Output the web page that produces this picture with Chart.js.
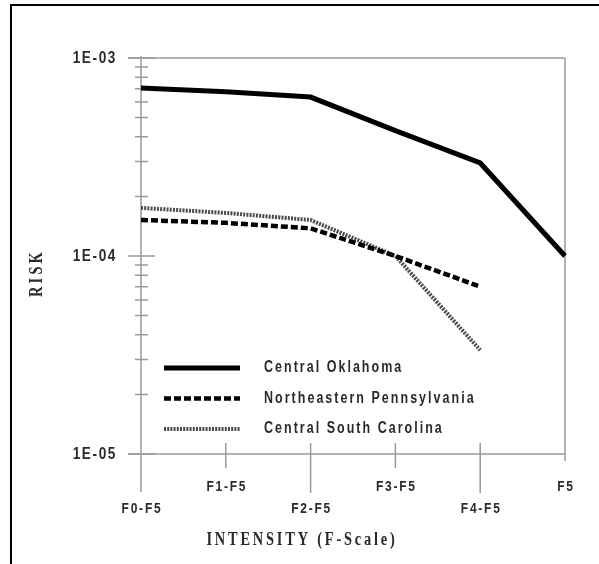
<!DOCTYPE html>
<html>
<head>
<meta charset="utf-8">
<title>Tornado risk by intensity</title>
<script src="https://cdn.jsdelivr.net/npm/chart.js@4.4.1/dist/chart.umd.min.js"></script>
<style>
  html, body { margin: 0; padding: 0; background: #fff; }
  #wrap { position: relative; width: 599px; height: 564px; overflow: hidden; }
  #frame {
    position: absolute; left: 10px; top: 4px; width: 700px; height: 700px;
    border-top: 2px solid #000; border-left: 2px solid #000;
  }
  canvas { position: absolute; left: 0; top: 0; }
</style>
</head>
<body>
<div id="wrap">
  <div id="frame"></div>
  <canvas id="riskChart" width="599" height="564"></canvas>
</div>
<script>
// intensity classes along the bottom
const categories = ['F0-F5', 'F1-F5', 'F2-F5', 'F3-F5', 'F4-F5', 'F5'];

// annual risk per region
const oklahoma = [7.05e-4, 6.75e-4, 6.35e-4, 4.3e-4, 2.95e-4, 1.0e-4];
const pennsylvania = [1.52e-4, 1.47e-4, 1.38e-4, 1.0e-4, 7.0e-5, null];
const southCarolina = [1.75e-4, 1.65e-4, 1.52e-4, 1.0e-4, 3.35e-5, null];

const seriesNames = ['Central Oklahoma', 'Northeastern Pennsylvania', 'Central South Carolina'];

// y axis decades
const yMajorTicks = [1e-5, 1e-4, 1e-3];
const yTickLabels = ['1E-05', '1E-04', '1E-03'];

const AXIS_GREY = '#9a9a9a';
const TEXT = '#2a2a2a';
const SANS = "'Liberation Sans', Arial, sans-serif";
const SERIF = "'Liberation Serif', 'Times New Roman', serif";

// narrow lettering: squeeze horizontally around the anchor point
function narrowText(ctx, text, x, y, sx) {
  ctx.save();
  ctx.translate(x, y);
  ctx.scale(sx, 1);
  ctx.fillText(text, 0, 0);
  ctx.restore();
}

// axes, ticks, titles and the in-plot legend
const axesPlugin = {
  id: 'axesPlugin',
  beforeDatasetsDraw(chart) {
    const ctx = chart.ctx;
    const x = chart.scales.x;
    const y = chart.scales.y;
    const left = x.getPixelForValue(0);
    const right = x.getPixelForValue(categories.length - 1);
    const top = y.getPixelForValue(1e-3);
    const bottom = y.getPixelForValue(1e-5);

    ctx.save();
    ctx.strokeStyle = AXIS_GREY;
    ctx.lineWidth = 1.5;

    // frame lines
    ctx.beginPath();
    ctx.moveTo(left - 13, top); ctx.lineTo(right, top);
    ctx.moveTo(right, top); ctx.lineTo(right, bottom + 7);
    ctx.moveTo(left - 13, bottom); ctx.lineTo(right, bottom);
    ctx.moveTo(left, top - 2); ctx.lineTo(left, bottom + 38);
    ctx.stroke();

    // y ticks: decades long, 2..9 short
    ctx.beginPath();
    yMajorTicks.forEach((v) => {
      const py = y.getPixelForValue(v);
      ctx.moveTo(left - 13, py); ctx.lineTo(left + 14, py);
    });
    for (let d = -5; d < -3; d++) {
      for (let m = 2; m <= 9; m++) {
        const py = y.getPixelForValue(m * Math.pow(10, d));
        ctx.moveTo(left - 6, py); ctx.lineTo(left + 7, py);
      }
    }
    ctx.stroke();

    // x ticks, alternating lengths
    ctx.beginPath();
    categories.forEach((c, i) => {
      if (i === 0 || i === categories.length - 1) return;
      const px = x.getPixelForValue(i);
      ctx.moveTo(px, bottom - 11);
      ctx.lineTo(px, bottom + (i % 2 === 0 ? 39 : 14));
    });
    ctx.stroke();

    // y tick labels
    ctx.fillStyle = TEXT;
    ctx.font = 'bold 17px ' + SANS;
    ctx.letterSpacing = '2px';
    ctx.textAlign = 'right';
    ctx.textBaseline = 'middle';
    yMajorTicks.forEach((v, i) => {
      narrowText(ctx, yTickLabels[i], left - 24, y.getPixelForValue(v), 0.8);
    });

    // x tick labels, staggered
    ctx.font = 'bold 15px ' + SANS;
    ctx.letterSpacing = '2.2px';
    ctx.textAlign = 'center';
    categories.forEach((c, i) => {
      const py = i % 2 === 0 ? bottom + 55 : bottom + 33;
      narrowText(ctx, c, x.getPixelForValue(i) + 1, py, 0.8);
    });

    // axis titles
    ctx.font = 'bold 18px ' + SERIF;
    ctx.letterSpacing = '3.5px';
    narrowText(ctx, 'INTENSITY (F-Scale)', 302, 540, 0.8);
    ctx.save();
    ctx.translate(37, 273);
    ctx.rotate(-Math.PI / 2);
    ctx.letterSpacing = '4px';
    narrowText(ctx, 'RISK', 0, 0, 0.8);
    ctx.restore();

    // legend
    const sets = chart.data.datasets;
    ctx.font = 'bold 16px ' + SANS;
    ctx.letterSpacing = '2.6px';
    ctx.textAlign = 'left';
    sets.forEach((ds, i) => {
      const ly = 368 + i * 30.5;
      ctx.save();
      ctx.strokeStyle = ds.borderColor;
      ctx.lineWidth = ds.borderWidth;
      ctx.setLineDash(ds.borderDash || []);
      ctx.beginPath();
      ctx.moveTo(164, ly); ctx.lineTo(240, ly);
      ctx.stroke();
      ctx.restore();
      narrowText(ctx, seriesNames[i], 264, ly, 0.78);
    });
    ctx.restore();
  }
};

const ctx = document.getElementById('riskChart').getContext('2d');
new Chart(ctx, {
  type: 'line',
  data: {
    labels: categories,
    datasets: [
      {
        label: seriesNames[0],
        data: oklahoma,
        borderColor: '#000',
        borderWidth: 5,
        pointRadius: 0,
        clip: false,
      },
      {
        label: seriesNames[1],
        data: pennsylvania,
        borderColor: '#000',
        borderWidth: 4.5,
        borderDash: [7, 3],
        pointRadius: 0,
        clip: false,
      },
      {
        label: seriesNames[2],
        data: southCarolina,
        borderColor: '#4a4a4a',
        borderWidth: 4,
        borderDash: [2, 1.2],
        pointRadius: 0,
        clip: false,
      },
    ],
  },
  options: {
    responsive: false,
    animation: false,
    layout: { padding: { left: 141, right: 34, top: 58, bottom: 110 } },
    plugins: {
      legend: { display: false },
      tooltip: { enabled: false },
    },
    scales: {
      x: { type: 'category', display: false, offset: false },
      y: { type: 'logarithmic', display: false, min: 1e-5, max: 1e-3 },
    },
  },
  plugins: [axesPlugin],
});
</script>
</body>
</html>
